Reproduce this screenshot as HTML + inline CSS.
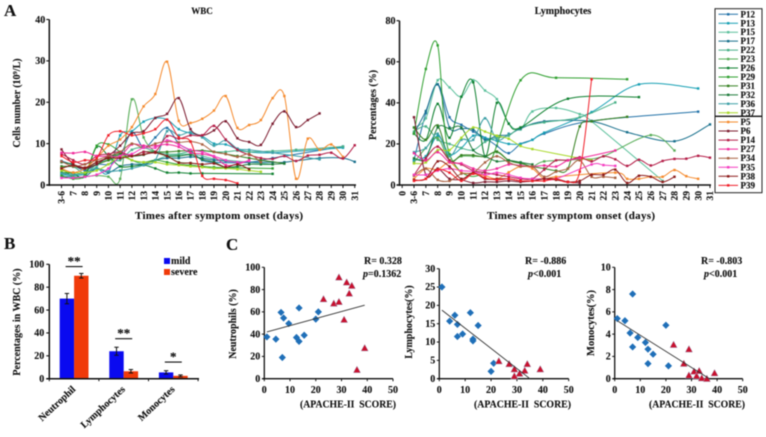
<!DOCTYPE html>
<html lang="en">
<head>
<meta charset="utf-8">
<title>WBC and lymphocyte charts</title>
<style>
html,body{margin:0;padding:0;background:#fff;width:766px;height:437px;overflow:hidden}
svg{display:block;filter:blur(0.4px)}
text{font-family:"Liberation Serif",serif;font-weight:bold;fill:#111;stroke:#111;stroke-width:0.12px}
</style>
</head>
<body>
<svg id="fig" xmlns="http://www.w3.org/2000/svg" width="766" height="437" viewBox="0 0 766 437">
<text x="4" y="16" font-size="17">A</text>
<text x="4" y="249" font-size="17">B</text>
<text x="226" y="250" font-size="17">C</text>
<text x="202" y="14" font-size="9" text-anchor="middle">WBC</text>
<text x="563" y="14" font-size="10" text-anchor="middle">Lymphocytes</text>
<text x="135" y="219" font-size="11" textLength="168">Times after symptom onset (days)</text>
<text x="487" y="219" font-size="11" textLength="168">Times after symptom onset (days)</text>
<text transform="translate(20,103) rotate(-90)" font-size="10" text-anchor="middle">Cells number (10<tspan font-size="6.5" dy="-3">9</tspan><tspan dy="3">/L)</tspan></text>
<text transform="translate(376,105) rotate(-90)" font-size="10" text-anchor="middle">Percentages (%)</text>
<text transform="translate(20,322) rotate(-90)" font-size="10" text-anchor="middle">Percentages in WBC (%)</text>
<rect x="164" y="258" width="6" height="6" fill="#0a0af0"/>
<text x="171" y="264" font-size="10">mild</text>
<rect x="164" y="269" width="6" height="6" fill="#f03a0a"/>
<text x="171" y="275" font-size="10">severe</text>
<text transform="translate(236,324) rotate(-90)" font-size="10" text-anchor="middle">Neutrophils (%)</text>
<text transform="translate(412,322) rotate(-90)" font-size="10" text-anchor="middle">Lymphocytes(%)</text>
<text transform="translate(594,323) rotate(-90)" font-size="10.5" text-anchor="middle">Monocytes(%)</text>
<text x="300" y="407.500" font-size="10" textLength="96" lengthAdjust="spacingAndGlyphs">(APACHE-II&#160;&#160;SCORE)</text>
<text x="474" y="407.500" font-size="10" textLength="97" lengthAdjust="spacingAndGlyphs">(APACHE-II&#160;&#160;SCORE)</text>
<text x="649" y="407.500" font-size="10" textLength="96" lengthAdjust="spacingAndGlyphs">(APACHE-II&#160;&#160;SCORE)</text>
<text x="364" y="264" font-size="10">R= 0.328</text>
<text x="363" y="277" font-size="10"><tspan font-style="italic">p</tspan>=0.1362</text>
<text x="525" y="264" font-size="10">R= -0.886</text>
<text x="528" y="277" font-size="10"><tspan font-style="italic">p</tspan>&lt;0.001</text>
<text x="701" y="264" font-size="10">R= -0.803</text>
<text x="704" y="277" font-size="10"><tspan font-style="italic">p</tspan>&lt;0.001</text>
</svg>
<script>
const _ = null;
const dayCategories = ["3-6","7","8","9","10","11","12","13","14","15","16","17","18","19","20","21","22","23","24","25","26","27","28","29","30","31"];
const lymphCategories = ["0"].concat(dayCategories);
const patientNames = ["P12","P13","P15","P17","P22","P23","P26","P29","P31","P32","P36","P37","P5","P6","P14","P27","P34","P35","P38","P39"];
const patientColors = ["#2272a8","#18a0b4","#5cc09c","#176f8c","#48b088","#58ad58","#0f8030","#30a030","#358020","#1c7a3a","#3c9fa6","#a8d828","#f58a2d","#7c1c30","#b41e48","#f02a9a","#a86040","#f43cc0","#8c1a1a","#f01e28"];
const wbcTicks = [0,10,20,30,40];
const lymphTicks = [0,20,40,60,80];

const wbcP12 = [5.8,4.8,3.5,5,5,7,12.8,9,11.5,13.8,10,8.3,6,5.5,_,_,5.5,_,6.5,_,_,_,_,_,9.3,_];
const wbcP13 = [2.5,2.3,2.6,4,3,12,13,15.3,16.2,15.8,13.5,12.5,11.8,10,9.8,8.7,8,_,7.8,_,_,_,_,_,9,_];
const wbcP15 = [3.5,3,2.8,4.5,7,7,6,5,6,7,7.3,7.5,7,6.3,6,_,5.5,_,5,_,_,_,_,_,_,_];
const wbcP17 = [2,2,2,4,3,4.5,5,5,6,6.5,6.5,6.8,6.5,6,5.8,5.5,5.5,5.5,5.5,5.5,_,_,6.5,_,6.5,5.6];
const wbcP22 = [4.2,4.4,2.8,5,6,6,8.5,9,8,7.5,7.5,8.2,8.3,8,8,8.3,8,_,8.2,_,8.5,_,_,_,9.3,_];
const wbcP23 = [4,2,2,2.3,2,1.5,20.7,11.5,8,7,5.5,5.3,5,_,_,_,_,_,_,_,_,_,_,_,_,_];
const wbcP26 = [3,2.8,2,9.2,7,4.5,4.5,4.8,4,3,3,2.8,2.8,_,_,_,_,_,2.7,_,_,_,_,_,_,_];
const wbcP29 = [2.3,1.5,2.5,9.5,9.8,8,6,5.5,6,5.5,5,4.8,4.5,4.3,4.2,_,_,_,4,_,_,_,_,_,_,_];
const wbcP31 = [4.5,4.5,4,5,6,7.5,7,8,8,8,8.2,8.3,8.3,8,7.5,7,6.5,6,_,5.2,_,_,_,_,_,_];
const wbcP32 = [5.5,5,4,5.5,6.5,7.8,7,7.3,8,7,7,7.3,6.2,5.5,4.3,4.5,5,5,5,5.2,_,_,_,_,_,_];
const wbcP36 = [2.8,2.5,3,4,3.3,3.5,4,4.8,6,13,12,12.8,11.5,9.5,10.8,8.8,8.5,_,7.8,_,_,_,6.2,_,_,_];
const wbcP37 = [3.5,3,3,3.5,5,7,6,5.5,5.5,5,4.8,4.5,4.3,4,4,3.8,3.5,3.2,_,_,_,_,_,_,_,_];
const wbcP5 = [4,3,4,6.5,9.5,11,14,19,22,29.8,15.5,15,16,18,21.5,13.8,14.5,15.7,21,21.5,1.5,11.2,8.5,9.8,6.8,_];
const wbcP6 = [8.6,5,4,5,7,9.5,12.5,13,16.2,17.2,21,13.5,12,13.2,15.4,11.3,10.4,9.7,14.8,17.8,14,15.7,17.3,_,_,_];
const wbcP14 = [7.5,6,5,7,7.5,8,7,8,8,11.8,11.2,12,12,14.3,11,8.5,7.3,6.5,6.3,7,5.8,7.1,7.3,7.8,6.4,9.6];
const wbcP27 = [7.8,7.7,8,7,7,7,9.8,9.5,9.5,9.8,9.2,7.8,7.5,6.8,4.8,5,6,_,_,_,_,_,_,_,_,_];
const wbcP34 = [5.7,4.5,5,6,7,8,10,9,10,10.5,10.3,10.5,9.8,8,7.5,6.8,7.5,5.5,_,_,_,_,_,_,_,_];
const wbcP35 = [1.7,1.7,2,2.5,4,7,7.5,9,9,10.8,9.8,8.5,8,7,6,5.5,5.8,_,_,_,_,_,_,_,_,_];
const wbcP38 = [4,4.8,4.2,5.5,6.5,6.5,7,7.4,7.8,7,5.4,5.3,5,5.2,4.3,5,3.8,_,_,_,_,_,_,_,_,_];
const wbcP39 = [7,5.5,6,6.5,12,13,12,12.5,13.5,15.8,11.5,10.5,2.2,1.5,1.2,0.4,_,_,_,_,_,_,_,_,_,_];
const wbcSeries = [wbcP12,wbcP13,wbcP15,wbcP17,wbcP22,wbcP23,wbcP26,wbcP29,wbcP31,wbcP32,wbcP36,wbcP37,wbcP5,wbcP6,wbcP14,wbcP27,wbcP34,wbcP35,wbcP38,wbcP39];

const lymP12 = [12,35,49,33,29.3,26,23,19,15.5,20,22,25,_,_,_,31.2,_,_,_,_,_,_,_,_,35.7,_];
const lymP13 = [12,14,24,15,18,24,23,21.5,20,20,22,25.5,_,_,_,35.5,_,_,_,49,_,_,_,_,47,_];
const lymP15 = [28,32.5,51,47.5,43,51,46,41.8,30,27,35.8,_,37.5,_,34.5,31,_,_,_,_,_,2,_,_,_,_];
const lymP17 = [25,36,49,28,27.5,27,22,24,24.5,27.5,_,31,_,_,_,31,_,_,25.7,_,_,_,21.3,_,_,29.5];
const lymP22 = [26,28.5,22,20,18,17,21,23,24,28,_,30.5,_,_,33,_,_,40.2,_,_,_,_,_,_,_,_];
const lymP23 = [11,18,23,12,14,14,14,16,12,11,9,11.5,_,_,12.5,_,14,_,_,_,24.3,_,16.8,_,_,_];
const lymP26 = [25,22,39.5,23,43,50,14,40,29.8,28,_,_,_,42,_,_,_,_,_,42.8,_,_,_,_,_,_];
const lymP29 = [25,56.5,68,15,_,_,7,_,_,51,_,_,52.2,_,_,_,_,_,51.5,_,_,_,_,_,_,_];
const lymP31 = [28,22,29,12,14.5,14.5,13.8,16.3,12,10.5,9,8,7,8,28.5,31,_,_,33.2,_,_,_,_,_,_,_];
const lymP32 = [13,13,28,27.5,28,17,14,11.5,12,11,10,_,_,_,_,_,_,_,_,_,_,_,_,_,_,_];
const lymP36 = [16,18,25,14,22,22,32.5,22,25,_,_,_,_,_,_,_,_,_,_,_,_,_,_,_,_,_];
const lymP37 = [10.5,11,17,17,23,28,26,24,22.5,19,17.5,_,_,_,13,12,_,_,_,_,_,_,_,_,_,_];
const lymP5 = [3,8,7.5,11,6,5.5,4.5,3,6.2,9,8,3,4,_,_,_,_,6,3,3,4,4,7.3,4.3,3,_];
const lymP6 = [33,5,8,3,2.5,1,1.5,1.5,2,1.5,2,3,3,1.5,1,_,_,_,_,_,_,_,_,_,_,_];
const lymP14 = [4.8,13,18.7,12,10,7,6,5,4,3,3,7.5,12,12,13.5,11.5,14,12.5,9.3,12.3,9.5,11.7,12.7,12.8,14.2,13.3];
const lymP27 = [15.5,12,16,11,10.5,8,7,8,10,9.5,9,9.5,9,12,13,_,_,16.8,_,_,_,_,_,_,_,_];
const lymP34 = [4.5,8,2.5,2,5.5,6,11,14,11,9,9,4,6.5,8,12,4,4,3.5,_,_,_,_,_,_,_,_];
const lymP35 = [5,5,7,8,7,6.5,5,6,5,3.5,3,3,3,_,_,10,9.7,9.3,_,_,_,_,_,_,_,_];
const lymP38 = [2.5,3,11.5,9,3,6,3,3,3,2,2,3,2.5,1.5,2,5,5,7.5,1,4.5,4,1.5,4,_,_,_];
const lymP39 = [2,3,7.5,6,2,5.5,3.5,2.5,3,2,2,2,3,1.5,6.5,51.5,_,_,_,_,_,_,_,_,_,_];
const lymSeries = [lymP12,lymP13,lymP15,lymP17,lymP22,lymP23,lymP26,lymP29,lymP31,lymP32,lymP36,lymP37,lymP5,lymP6,lymP14,lymP27,lymP34,lymP35,lymP38,lymP39];

const barCategories = ["Neutrophil","Lymphocytes","Monocytes"];
const barTicks = [0,20,40,60,80,100];
const mildValues = [70,24,5.5];
const severeValues = [90,6.5,2.5];
const mildErrors = [4.5,3.5,1.5];
const severeErrors = [2,1.5,0.8];
const barSignificance = ["**","**","*"];
const barSignificanceLevels = [98,35,14.5];

const scoreTicks = [0,10,20,30,40,50];
const neutroTicks = [0,20,40,60,80,100];
const lymScatterTicks = [0,5,10,15,20,25,30];
const monoTicks = [0,2,4,6,8,10];
const mildScores = [1,4.5,6.5,7.5,7,9.5,12.5,13.5,13.5,15.5,20,21];
const severeScores = [23,27,29,29,32,34,33,31,39,36];
const neutroMild = [37.5,35.5,59.5,54.5,19,49.5,37,33.5,63.5,39,53.5,60];
const neutroSevere = [71.5,67.5,69,91,86.5,83.5,76.5,53,27.5,8];
const neutroTrendX = [1,39];
const neutroTrendY = [42,66];
const lymMildScores = [1,4,6,7,7,9,12,13,13,15,20,21];
const lymMild = [25,15.7,17.3,14.8,11.5,12.2,18,10.8,10.3,14.5,2,4.2];
const lymSevereScores = [23,27,29,29,31,33,34,39];
const lymSevere = [4.8,4,2.6,0.7,1.4,2.2,4,2.6];
const lymTrendX = [1,35];
const lymTrendY = [18.7,0];
const monoMildScores = [1,4,6,7,7,9,12,13,13,15,20,21];
const monoMild = [5.4,5.2,4.1,7.6,2.85,3.7,3.25,2.65,1.35,2.2,4.8,1.15];
const monoSevereScores = [23,27,29,29,31,32,33,34,36,39];
const monoSevere = [3.05,1.35,2.65,0.3,0.65,0.25,0.7,0.05,0,0.5];
const monoTrendX = [1,37];
const monoTrendY = [5.2,0];

const NS = "http://www.w3.org/2000/svg";
const fig = document.getElementById("fig");
function mk(tag, attrs, parent, txt) {
  const e = document.createElementNS(NS, tag);
  for (const k in attrs) e.setAttribute(k, attrs[k]);
  if (txt !== undefined) e.textContent = txt;
  (parent || fig).appendChild(e);
  return e;
}
function smooth(p) {
  let d = "M" + p[0][0].toFixed(2) + " " + p[0][1].toFixed(2);
  for (let i = 0; i < p.length - 1; i++) {
    const a = p[i - 1] || p[i], b = p[i], c = p[i + 1], e = p[i + 2] || c;
    d += "C" + (b[0] + (c[0] - a[0]) / 6).toFixed(2) + " " + (b[1] + (c[1] - a[1]) / 6).toFixed(2) +
      " " + (c[0] - (e[0] - b[0]) / 6).toFixed(2) + " " + (c[1] - (e[1] - b[1]) / 6).toFixed(2) +
      " " + c[0].toFixed(2) + " " + c[1].toFixed(2);
  }
  return d;
}
function linear(d0, d1, r0, r1) { return v => r0 + (v - d0) / (d1 - d0) * (r1 - r0); }

function lineChart(prefix, cats, offset, series, ticks, axX, xFn, yFn, xEnd) {
  const g = mk("g", {});
  
  
  series.forEach((vals, s) => {
    const pts = [];
    vals.forEach((v, i) => { if (v !== null) pts.push([xFn(i + offset), yFn(v)]); });
    const sg = mk("g", {}, g);
    
    
    mk("path", {d: smooth(pts), fill: "none", stroke: patientColors[s], "stroke-width": 1}, sg);
    pts.forEach(pt => mk("rect", {x: pt[0] - 1.2, y: pt[1] - 1.2, width: 2.4, height: 2.4, fill: patientColors[s]}, sg));
  });
  const y0 = yFn(0);
  mk("line", {x1: axX, x2: axX, y1: yFn(ticks[ticks.length - 1]), y2: y0 + 1, stroke: "#111", "stroke-width": 1.5}, g);
  mk("line", {x1: axX - 3, x2: xEnd, y1: y0, y2: y0, stroke: "#111", "stroke-width": 1.5}, g);
  ticks.forEach(t => {
    mk("line", {x1: axX - 3, x2: axX, y1: yFn(t), y2: yFn(t), stroke: "#111", "stroke-width": 1.1}, g);
    mk("text", {x: axX - 4, y: yFn(t) + 3.3, "font-size": 10, "text-anchor": "end"}, g, t);
  });
  cats.forEach((c, i) => {
    const x = xFn(i);
    mk("line", {x1: x, x2: x, y1: y0, y2: y0 + 3, stroke: "#111", "stroke-width": 1}, g);
    mk("text", {transform: "translate(" + (x + 3.2) + "," + (y0 + 6) + ") rotate(-90)", "font-size": 9.5, "text-anchor": "end"}, g, c);
  });
}
lineChart("wbc", dayCategories, 0, wbcSeries, wbcTicks, 49.3, linear(0, 24, 61.5, 343), linear(0, 40, 185, 19.5), 356);
lineChart("lymphocytes", lymphCategories, 1, lymSeries, lymphTicks, 399.5, linear(1, 26, 414, 710), linear(0, 80, 185, 20.7), 711);

/* patient legend */
const leg = mk("g", {});


mk("rect", {x: 715, y: 8.7, width: 47, height: 184, fill: "#fff", stroke: "#222", "stroke-width": 1}, leg);
patientNames.forEach((n, i) => {
  const y = i < 12 ? 14.3 + i * 8.95 : 122 + (i - 12) * 9.05;
  const e = mk("g", {}, leg);
  
  
  mk("line", {x1: 718.5, x2: 738, y1: y, y2: y, stroke: patientColors[i], "stroke-width": 1}, e);
  mk("rect", {x: 727, y: y - 1.2, width: 2.4, height: 2.4, fill: patientColors[i]}, e);
  mk("text", {x: 740.5, y: y + 3, "font-size": 9}, e, n);
});
mk("line", {x1: 715, x2: 762, y1: 116.3, y2: 116.3, stroke: "#111", "stroke-width": 1.4}, leg);

/* bar chart */
(function () {
  const g = mk("g", {});
  
  
  const y = linear(0, 100, 378.7, 264.3);
  const ax = 49.3, band = 49.6, w = 14.4;
  const err = (x, v, e) => {
    mk("line", {x1: x, x2: x, y1: y(v + e), y2: y(v - e), stroke: "#111", "stroke-width": 1}, g);
    mk("line", {x1: x - 2.2, x2: x + 2.2, y1: y(v + e), y2: y(v + e), stroke: "#111", "stroke-width": 1}, g);
    mk("line", {x1: x - 2.2, x2: x + 2.2, y1: y(v - e), y2: y(v - e), stroke: "#111", "stroke-width": 1}, g);
  };
  barCategories.forEach((c, i) => {
    const cx = ax + band * (i + 0.5);
    const b1 = mk("rect", {x: cx - w, y: y(mildValues[i]), width: w, height: y(0) - y(mildValues[i]), fill: "#0a0af0"}, g);
    
    
    const b2 = mk("rect", {x: cx, y: y(severeValues[i]), width: w, height: y(0) - y(severeValues[i]), fill: "#f03a0a"}, g);
    
    
    err(cx - w / 2, mildValues[i], mildErrors[i]);
    err(cx + w / 2, severeValues[i], severeErrors[i]);
    const ly = y(barSignificanceLevels[i]);
    mk("line", {x1: cx - 8.5, x2: cx + 8.5, y1: ly, y2: ly, stroke: "#111", "stroke-width": 1.1}, g);
    mk("text", {x: cx, y: ly - 1, "font-size": 13, "text-anchor": "middle"}, g, barSignificance[i]);
    mk("text", {transform: "translate(" + (cx + 2) + ",390) rotate(-43)", "font-size": 10, "text-anchor": "end"}, g, c);
  });
  mk("line", {x1: ax, x2: ax, y1: y(100), y2: y(0), stroke: "#111", "stroke-width": 1.5}, g);
  mk("line", {x1: ax - 3, x2: 199, y1: y(0), y2: y(0), stroke: "#111", "stroke-width": 1.5}, g);
  barTicks.forEach(t => {
    mk("line", {x1: ax - 3, x2: ax, y1: y(t), y2: y(t), stroke: "#111", "stroke-width": 1.1}, g);
    mk("text", {x: ax - 5, y: y(t) + 3.3, "font-size": 10, "text-anchor": "end"}, g, t);
  });
  barCategories.concat([""]).forEach((c, i) => {
    const x = ax + band * i;
    mk("line", {x1: x, x2: x, y1: y(0), y2: y(0) + 2.5, stroke: "#111", "stroke-width": 1}, g);
  });
})();

/* scatter plots */
function scatter(name, x0, x1, y0, y1, yTicks, mx, my, sx, sy, tx, ty) {
  const g = mk("g", {});
  
  
  const xs = linear(0, 50, x0, x1);
  const ys = linear(yTicks[0], yTicks[yTicks.length - 1], y0, y1);
  mk("line", {x1: x0, x2: x0, y1: y1, y2: y0, stroke: "#111", "stroke-width": 1.3}, g);
  mk("line", {x1: x0 - 2, x2: x1, y1: y0, y2: y0, stroke: "#111", "stroke-width": 1.3}, g);
  yTicks.forEach(t => {
    mk("line", {x1: x0 - 2.5, x2: x0, y1: ys(t), y2: ys(t), stroke: "#111", "stroke-width": 1}, g);
    mk("text", {x: x0 - 4, y: ys(t) + 3.2, "font-size": 10, "text-anchor": "end"}, g, t);
  });
  scoreTicks.forEach(t => {
    mk("line", {x1: xs(t), x2: xs(t), y1: y0, y2: y0 + 2.5, stroke: "#111", "stroke-width": 1}, g);
    mk("text", {x: xs(t), y: 393, "font-size": 10, "text-anchor": "middle"}, g, t);
  });
  mx.forEach((v, i) => {
    const x = xs(v), y = ys(my[i]);
    const m = mk("polygon", {points: [x, y - 3.6, x + 3.6, y, x, y + 3.6, x - 3.6, y].join(" "), fill: "#1f6fb8"}, g);
    
    
  });
  sx.forEach((v, i) => {
    const x = xs(v), y = ys(sy[i]);
    const m = mk("polygon", {points: [x, y - 3.7, x + 3.6, y + 2.9, x - 3.6, y + 2.9].join(" "), fill: "#c8102e", stroke: "#9fb8d0", "stroke-width": 0.4}, g);
    
    
  });
  const tr = mk("line", {x1: xs(tx[0]), x2: xs(tx[1]), y1: ys(ty[0]), y2: ys(ty[1]), stroke: "#333", "stroke-width": 0.9}, g);
  
  
}
scatter("neutrophils", 264.3, 393, 378.7, 267.3, neutroTicks, mildScores, neutroMild, severeScores, neutroSevere, neutroTrendX, neutroTrendY);
scatter("lymphocytes", 439.3, 568.7, 378.7, 268.7, lymScatterTicks, lymMildScores, lymMild, lymSevereScores, lymSevere, lymTrendX, lymTrendY);
scatter("monocytes", 614.7, 742.7, 378.7, 267.3, monoTicks, monoMildScores, monoMild, monoSevereScores, monoSevere, monoTrendX, monoTrendY);
</script>
</body>
</html>
